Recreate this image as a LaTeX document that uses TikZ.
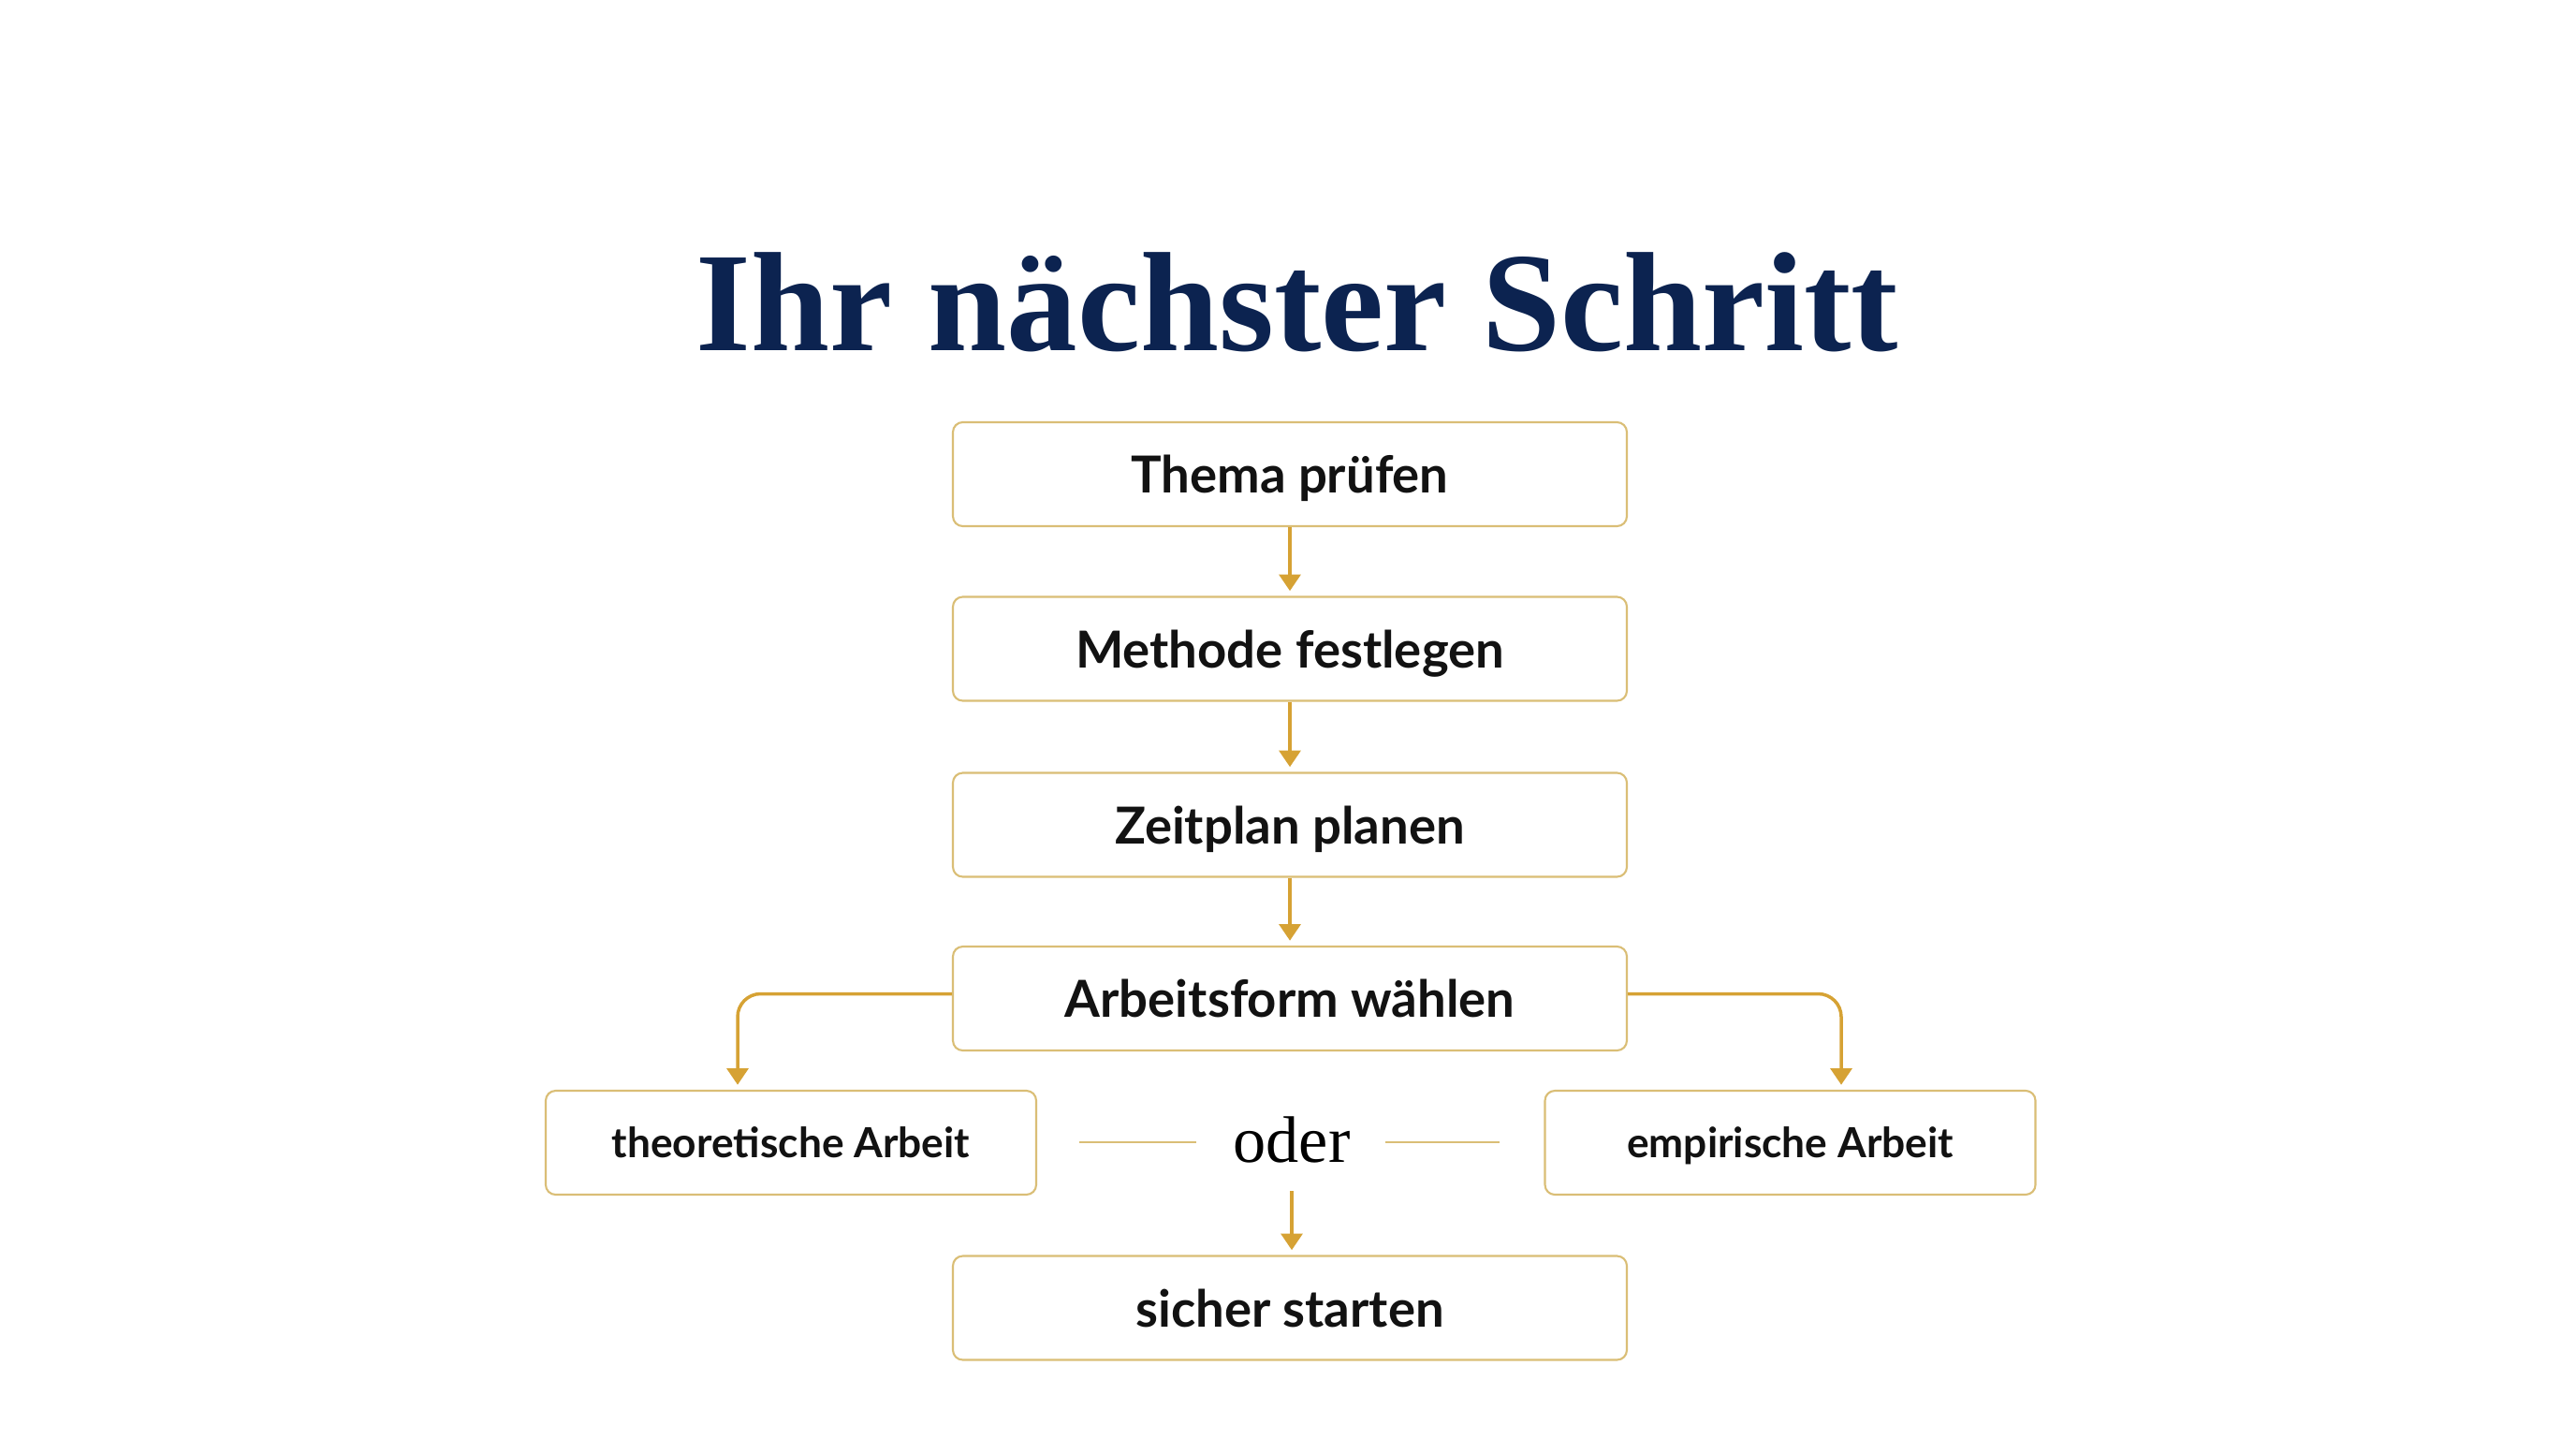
\documentclass[tikz,border=0pt]{standalone}
\usepackage{fontspec}
\setmainfont{Liberation Serif}
\newfontfamily\boxfont{Lato}
\usepackage{xcolor}
\definecolor{titleNavy}{RGB}{12, 35, 80}
\definecolor{stepGold}{RGB}{214, 162, 52}
\definecolor{frameGold}{RGB}{218, 190, 118}
\usepackage{tikz}
\usetikzlibrary{arrows.meta, positioning, calc}

\begin{document}
\begin{tikzpicture}[
  stepbox/.style={rectangle, draw=frameGold, line width=0.6pt, fill=white,
                  rounded corners=3pt, minimum width=7.2cm, minimum height=1.11cm,
                  text depth=0pt, align=center,
                  font=\boxfont\bfseries\fontsize{15.5}{18}\selectfont,
                  text=black!93},
  branchbox/.style={stepbox, minimum width=5.24cm,
                    font=\boxfont\bfseries\fontsize{12.6}{15}\selectfont},
  flow/.style={draw=stepGold, line width=1pt, shorten >=1.5pt,
               -{Triangle[width=6.5pt,length=5pt]}},
  orline/.style={draw=frameGold, line width=0.6pt}]

  % ---- Canvas ----
  \useasboundingbox (0,0) rectangle (27.52,-15.36);
  \fill[white] (0,0) rectangle (27.52,-15.36);

  % ---- Title ----
  \node[anchor=base, font=\bfseries\fontsize{43}{50}\selectfont, text=titleNavy]
    (title) at (13.86,-3.74) {Ihr nächster Schritt};

  % ---- Steps ----
  \node[stepbox] (thema)    at (13.78,-5.065)  {Thema prüfen};
  \node[stepbox] (methode)  at (13.78,-6.93)   {Methode festlegen};
  \node[stepbox] (zeitplan) at (13.78,-8.81)   {Zeitplan planen};
  \node[stepbox] (form)     at (13.78,-10.665) {Arbeitsform wählen};

  % ---- Branches ----
  \node[branchbox] (theorie) at (8.45,-12.205)   {theoretische Arbeit};
  \node[branchbox] (empirie) at (19.125,-12.205) {empirische Arbeit};
  \node[font=\fontsize{20}{24}\selectfont, inner sep=0pt] (oder) at (13.80,-12.17) {oder};
  \node[stepbox] (start)    at (13.78,-13.97)  {sicher starten};

  % ---- Connectors ----
  \draw[flow] (thema.south)    -- (methode.north);
  \draw[flow] (methode.south)  -- (zeitplan.north);
  \draw[flow] (zeitplan.south) -- (form.north);

  \draw[flow, rounded corners=7pt] ([yshift=0.05cm]form.west)
      -| ([xshift=-0.57cm]theorie.north);
  \draw[flow, rounded corners=7pt] ([yshift=0.05cm]form.east)
      -| ([xshift=0.545cm]empirie.north);

  % "oder" rules
  \coordinate (oderleft)  at (11.53,-12.2);
  \coordinate (oderright) at (16.02,-12.2);
  \draw[orline] (oderleft) -- ++(1.25,0);
  \draw[orline] (oderright) -- ++(-1.22,0);

  \coordinate (oderfoot) at (13.80,-12.72);
  \draw[flow] (oderfoot) -- (start.north -| oderfoot);

\end{tikzpicture}
\end{document}
